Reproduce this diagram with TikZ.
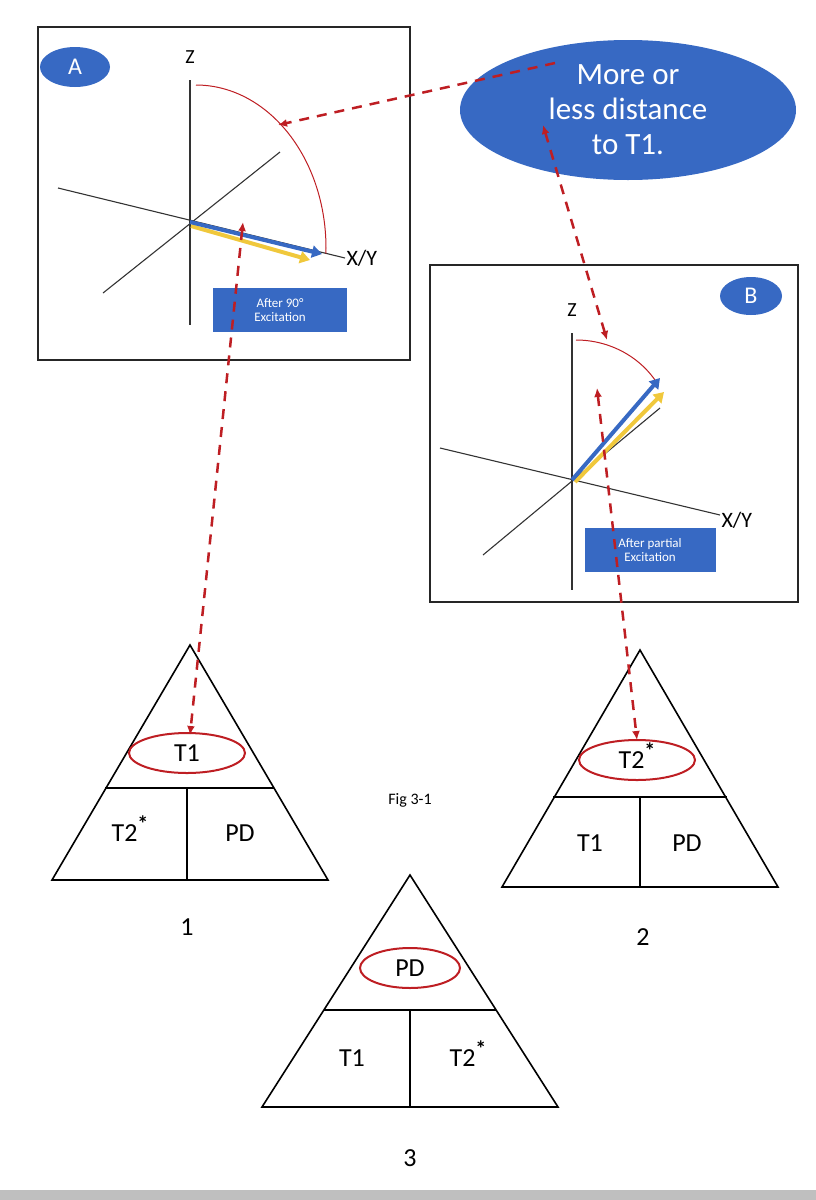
\documentclass[tikz,border=0pt]{standalone}
\usepackage{fontspec}
\setmainfont{Carlito}
\usetikzlibrary{arrows.meta,shapes.geometric}
\definecolor{dred}{RGB}{190,30,35}
\definecolor{bblue}{RGB}{55,105,195}
\definecolor{yel}{RGB}{240,200,60}
\newcommand{\tstar}{\smash{\raisebox{0.4em}{\fontsize{22}{22}\selectfont\bfseries *}}}
\begin{document}
\begin{tikzpicture}[x=1pt,y=-1pt,
  panel/.style={draw=black!85,line width=1.8pt},
  ax/.style={draw=black!80,line width=1.1pt},
  badge/.style={ellipse,fill=bblue,text=white,font=\fontsize{24}{24}\selectfont},
  lbl/.style={fill=bblue,text=white,font=\fontsize{13}{14}\selectfont,align=center,minimum width=134pt,minimum height=44pt,inner sep=1pt},
  tri/.style={draw=black,line width=1.6pt},
  circ/.style={draw=dred,line width=2pt,ellipse,minimum width=116pt,minimum height=40pt,font=\fontsize{26}{26}\selectfont},
  tt/.style={font=\fontsize{26}{26}\selectfont},
  dsh/.style={draw=dred,line width=2.5pt,dash pattern=on 10pt off 8pt,{Latex[length=9pt,width=8pt]}-{Latex[length=9pt,width=8pt]}},
  dsh1/.style={draw=dred,line width=2.5pt,dash pattern=on 10pt off 8pt,-{Latex[length=9pt,width=8pt]}},
  vb/.style={draw=bblue,line width=4pt,-{Triangle[length=10pt,width=12pt]}},
  vy/.style={draw=yel,line width=4pt,-{Triangle[length=10pt,width=12pt]}}]
\useasboundingbox (0,0) rectangle (816,1200);
\fill[black!25] (0,1190) rectangle (816,1200);
% Panel A
\draw[panel] (38,27) rectangle (410,360);
\node[badge,minimum width=70pt,minimum height=40pt,inner sep=0pt] (bA) at (75,67) {A};
\node[font=\fontsize{20}{20}\selectfont] (zA) at (190,57) {Z};
\draw[ax] (190,80) -- (190,325);
\draw[ax] (58,188) -- (345,258);
\draw[ax] (103,293) -- (280,152);
\draw[dred,line width=1pt] (196,85) arc[start angle=-90,end angle=2,x radius=130,y radius=163];
\coordinate (oA) at (190,222);
\draw[vy] (191,226) -- (310,260);
\draw[vb] (oA) -- (322,254);
\node[anchor=west,font=\fontsize{22}{22}\selectfont] (xyA) at (343,258) {X/Y};
\node[lbl] (lA) at (280,310) {After 90°\\Excitation};
% Panel B
\draw[panel] (430,265) rectangle (798,602);
\node[badge,minimum width=62pt,minimum height=38pt,inner sep=0pt] (bB) at (751,296) {B};
\node[font=\fontsize{20}{20}\selectfont] (zB) at (572,310) {Z};
\draw[ax] (572,333) -- (572,590);
\draw[ax] (440,448) -- (720,515);
\draw[ax] (483,555) -- (660,408);
\draw[dred,line width=1pt] (576,340) arc[start angle=-90,end angle=-30,x radius=95,y radius=90];
\coordinate (oB) at (572,480);
\draw[vy] (575,482) -- (664,392);
\draw[vb] (oB) -- (660,378);
\node[anchor=west,font=\fontsize{22}{22}\selectfont] (xyB) at (718,520) {X/Y};
\node[lbl,minimum width=131pt] (lB) at (650,550) {After partial\\Excitation};
% bubble
\node[ellipse,fill=bblue,text=white,minimum width=336pt,minimum height=140pt,align=center,font=\fontsize{31}{35}\selectfont,inner sep=0pt] (bub) at (628,110) {More or\\less distance\\to T1.};
% triangles
\draw[tri] (190,645) -- (328,880) -- (52,880) -- cycle;
\draw[tri] (105,788) -- (274,788) (187,788) -- (187,880);
\node[circ] (e1) at (187,753) {T1};
\node[tt] (t1a) at (130,833) {T2\tstar};
\node[tt] (t1b) at (240,833) {PD};
\node[tt] (n1) at (187,927) {1};
\draw[tri] (640,650) -- (778,887) -- (502,887) -- cycle;
\draw[tri] (553,797) -- (727,797) (640,797) -- (640,887);
\node[circ] (e2) at (637,760) {T2\tstar};
\node[tt] (t2a) at (590,843) {T1};
\node[tt] (t2b) at (687,843) {PD};
\node[tt] (n2) at (643,937) {2};
\draw[tri] (410,875) -- (558,1107) -- (262,1107) -- cycle;
\draw[tri] (324,1010) -- (496,1010) (410,1010) -- (410,1107);
\node[circ,minimum width=100pt] (e3) at (410,968) {PD};
\node[tt] (t3a) at (352,1058) {T1};
\node[tt] (t3b) at (468,1058) {T2\tstar};
\node[tt] (n3) at (410,1158) {3};
\node[font=\fontsize{16}{16}\selectfont] (fig) at (410,800) {Fig 3-1};
% dashed arrows
\coordinate (p1) at (555,63); \coordinate (a1) at (278,125);
\draw[dsh1] (p1) -- (a1);
\coordinate (p2) at (543,125); \coordinate (a2) at (607,340);
\draw[dsh] (p2) -- (a2);
\coordinate (p3) at (243,222); \coordinate (a3) at (190,735);
\draw[dsh] (p3) -- (a3);
\coordinate (p4) at (597,388); \coordinate (a4) at (637,740);
\draw[dsh] (p4) -- (a4);
\end{tikzpicture}
\end{document}
